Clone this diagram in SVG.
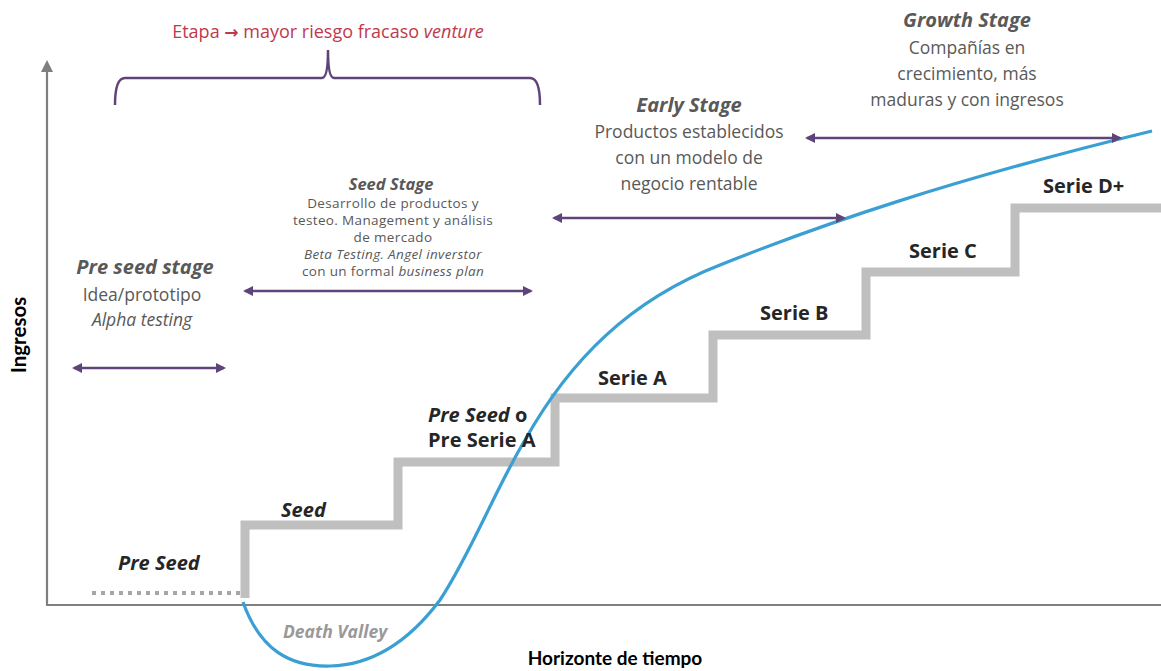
<svg xmlns="http://www.w3.org/2000/svg" width="1161" height="671" viewBox="0 0 1161 671">
<style>
.t{font-family:"Open Sans","Noto Sans",sans-serif;fill:#595959}
.h{font-weight:bold;font-style:italic}
.lab{font-family:"Open Sans","Noto Sans",sans-serif;font-weight:bold;fill:#262626;font-size:20px}
.small{font-family:"Open Sans","DejaVu Sans",sans-serif;fill:#595959;font-size:13.5px;letter-spacing:0.35px}
.pa{stroke:#5f4479;stroke-width:2.5;fill:none;marker-start:url(#ah);marker-end:url(#ah)}
.step{stroke:#bfbfbf;stroke-width:9;fill:none}
</style>
<defs>
<marker id="ah" viewBox="0 0 10 10" refX="8" refY="5" markerWidth="4.4" markerHeight="4" orient="auto-start-reverse" markerUnits="strokeWidth"><path d="M0,0 L10,5 L0,10 z" fill="#5f4479"/></marker>
</defs>
<rect width="1161" height="671" fill="#ffffff"/>
<g id="axes">
<path d="M47,605 L47,64" stroke="#7f7f7f" stroke-width="2.2" fill="none"/>
<path d="M41,72 L47,60 L53,72 z" fill="#7f7f7f"/>
<path d="M46,605 L1161,605" stroke="#7f7f7f" stroke-width="2.2" fill="none"/>
<text x="26" y="335" transform="rotate(-90 26 335)" text-anchor="middle" font-family="Lato,'Open Sans',sans-serif" font-weight="bold" font-size="20.5" fill="#000">Ingresos</text>
<text x="615" y="665" text-anchor="middle" font-family="Lato,'Open Sans',sans-serif" font-weight="bold" font-size="19" fill="#000">Horizonte de tiempo</text>
</g>
<g id="stairs">
<path d="M92,593 L240,593" stroke="#a6a6a6" stroke-width="4" stroke-dasharray="4,5" fill="none"/>
<path class="step" d="M245,598 L245,525 L398,525 L398,462 L555,462 L555,398 L713,398 L713,335 L866,335 L866,272 L1015,272 L1015,208 L1161,208"/>
</g>
<g id="curve">
<path d="M243,602 C260,650 290,667 330,666 C375,665 410,640 440,600 C470,555 495,490 525,440 C570,360 630,300 720,265 C820,225 950,180 1152,131" stroke="#3a9fd2" stroke-width="3.2" fill="none"/>
</g>
<g id="connectors">
<path class="pa" d="M74,368 L224,368"/>
<path class="pa" d="M245,291 L531,291"/>
<path class="pa" d="M554,218 L844,218"/>
<path class="pa" d="M807,138 L1120,138"/>
<path d="M115,105 Q115,78 125,78 L322,78 Q328,78 328,50 Q328,78 334,78 L530,78 Q540,78 540,105" stroke="#5f4479" stroke-width="2.5" fill="none"/>
</g>
<g id="risk">
<text x="328" y="38" text-anchor="middle" font-family="'Open Sans',sans-serif" font-size="18" fill="#c0394b">Etapa <tspan font-family="'DejaVu Sans',sans-serif" font-weight="bold" font-size="17">→</tspan> mayor riesgo fracaso <tspan font-style="italic">venture</tspan></text>
</g>
<g id="growth">
<text class="t h" x="967" y="27" text-anchor="middle" font-size="20">Growth Stage</text>
<text class="t" x="967" y="54" text-anchor="middle" font-size="17.5">Compañías en</text>
<text class="t" x="967" y="80" text-anchor="middle" font-size="17.5">crecimiento, más</text>
<text class="t" x="967" y="106" text-anchor="middle" font-size="17.5">maduras y con ingresos</text>
</g>
<g id="early">
<text class="t h" x="689" y="112" text-anchor="middle" font-size="20">Early Stage</text>
<text class="t" x="689" y="138" text-anchor="middle" font-size="17.5">Productos establecidos</text>
<text class="t" x="689" y="164" text-anchor="middle" font-size="17.5">con un modelo de</text>
<text class="t" x="689" y="190" text-anchor="middle" font-size="17.5">negocio rentable</text>
</g>
<g id="seedstage">
<text class="t h" x="391" y="190" text-anchor="middle" font-size="16.5">Seed Stage</text>
<text class="small" x="393" y="208" text-anchor="middle">Desarrollo de productos y</text>
<text class="small" x="393" y="225" text-anchor="middle">testeo. Management y análisis</text>
<text class="small" x="393" y="242" text-anchor="middle">de mercado</text>
<text class="small" x="393" y="259" text-anchor="middle" font-style="italic">Beta Testing. Angel inverstor</text>
<text class="small" x="393" y="276" text-anchor="middle">con un formal <tspan font-style="italic">business plan</tspan></text>
</g>
<g id="preseedstage">
<text class="t h" x="145" y="274" text-anchor="middle" font-size="20">Pre seed stage</text>
<text class="t" x="142" y="301" text-anchor="middle" font-size="17.5">Idea/prototipo</text>
<text class="t" x="142" y="326" text-anchor="middle" font-size="17.5" font-style="italic">Alpha testing</text>
</g>
<g id="labels">
<text class="lab" x="118" y="570" font-style="italic">Pre Seed</text>
<text class="lab" x="281" y="517" font-style="italic">Seed</text>
<text class="lab" x="428" y="422"><tspan font-style="italic">Pre Seed</tspan> o</text>
<text class="lab" x="428" y="447">Pre Serie A</text>
<text class="lab" x="598" y="385">Serie A</text>
<text class="lab" x="760" y="320">Serie B</text>
<text class="lab" x="909" y="258">Serie C</text>
<text class="lab" x="1043" y="193">Serie D+</text>
<text x="283" y="638" font-family="'Open Sans',sans-serif" font-weight="bold" font-style="italic" font-size="17.5" fill="#999999">Death Valley</text>
</g>
</svg>
